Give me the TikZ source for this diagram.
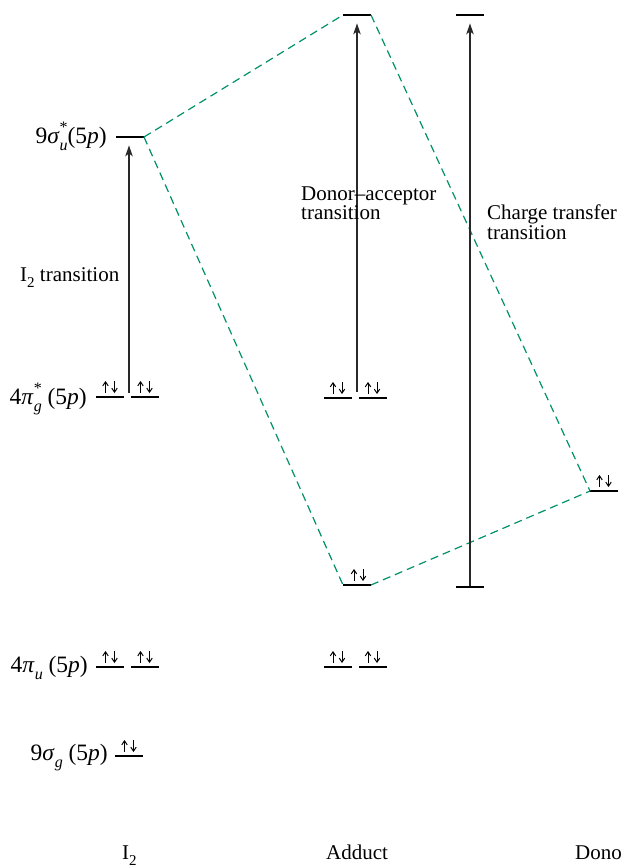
\documentclass[tikz,border=0pt]{standalone}
\usepackage{fontspec}
\setmainfont{Liberation Serif}
\usetikzlibrary{arrows.meta}
\definecolor{mogreen}{RGB}{0,145,105}
\definecolor{arrowgray}{RGB}{40,40,40}
\newcommand{\stk}[2]{\rlap{\raisebox{0.45em}{\fontsize{16}{16}\selectfont #1}}\raisebox{-0.3em}{\fontsize{16}{16}\selectfont\itshape #2}}
\newcommand{\subtxt}[1]{\raisebox{-0.3em}{\fontsize{15}{15}\selectfont #1}}
\begin{document}
\begin{tikzpicture}[x=1pt,y=-1pt,
  lev/.style={fill=black, minimum width=28pt, minimum height=2.8pt, inner sep=0pt, outer sep=0pt},
  trans/.style={line width=1.2pt, arrowgray, -{Stealth[length=11pt,width=7.5pt,inset=3pt]}},
  corr/.style={mogreen, line width=1.2pt, dash pattern=on 8pt off 5pt},
  spin/.style={line width=1pt, black, -{Straight Barb[length=4pt,width=5.5pt]}},
  lbl/.style={font=\fontsize{21}{17.5}\selectfont, inner sep=0pt},
  olbl/.style={font=\fontsize{23.5}{23.5}\selectfont, inner sep=0pt, anchor=base east},
  pair/.pic={\draw[spin] (-4.5,-4) -- (-4.5,-16); \draw[spin] (4.5,-16) -- (4.5,-4);}
]
\useasboundingbox (0,0) rectangle (621,867);
% I2 levels
\node[lev] (su) at (130,137) {};
\node[lev] (pga) at (110,397) {};
\node[lev] (pgb) at (145,397) {};
\node[lev] (pua) at (110,667) {};
\node[lev] (pub) at (145,667) {};
\node[lev] (sg) at (129,756) {};
% Adduct levels
\node[lev] (at) at (357,15) {};
\node[lev] (apga) at (337.5,398) {};
\node[lev] (apgb) at (372.5,398) {};
\node[lev] (al) at (357,585) {};
\node[lev] (apua) at (337.5,667) {};
\node[lev] (apub) at (372.5,667) {};
% CT levels
\node[lev] (ctt) at (470,15) {};
\node[lev] (ctb) at (470,587) {};
% Donor level
\node[lev] (don) at (604,491) {};
% spins
\pic at (pga) {pair};
\pic at (pgb) {pair};
\pic at (pua) {pair};
\pic at (pub) {pair};
\pic at (sg) {pair};
\pic at (apga) {pair};
\pic at (apgb) {pair};
\pic at (apua) {pair};
\pic at (apub) {pair};
\pic at ([xshift=1.5pt]al) {pair};
\pic at (don) {pair};
% correlation lines
\draw[corr] (su.east) -- (at.west);
\draw[corr] (su.east) -- (al.west);
\draw[corr] (at.east) -- (don.west);
\draw[corr] (al.east) -- (don.west);
% transitions
\coordinate (i2b) at (129,393);
\coordinate (adb) at (357,392);
\draw[trans, shorten >=7pt] (i2b) -- (i2b |- su.south);
\draw[trans, shorten >=7pt] (adb) -- (adb |- at.south);
\draw[trans, shorten >=7pt] (ctb.north) -- (ctt.south);
% labels
\node[olbl] (l1) at (107,143) {9\textit{σ}\stk{*}{u}(5\textit{p})};
\node[olbl] (l2) at (87,404) {4\textit{π}\stk{*}{g} (5\textit{p})};
\node[olbl] (l3) at (88,672) {4\textit{π}\stk{\phantom{*}}{u} (5\textit{p})};
\node[olbl] (l4) at (108,760) {9\textit{σ}\stk{\phantom{*}}{g} (5\textit{p})};
\node[lbl, anchor=base west] (t1) at (20,281) {I\subtxt{2} transition};
\node[lbl, anchor=north west, align=left] (t2) at (301,186.2) {Donor–acceptor\\transition};
\node[lbl, anchor=north west, align=left] (t3) at (487,204.6) {Charge transfer\\transition};
\node[lbl, anchor=base west] (b1) at (122,859) {I\subtxt{2}};
\node[lbl, anchor=base west] (b2) at (326,859) {Adduct};
\node[lbl, anchor=base west] (b3) at (575,859) {Donor};
\end{tikzpicture}
\end{document}
